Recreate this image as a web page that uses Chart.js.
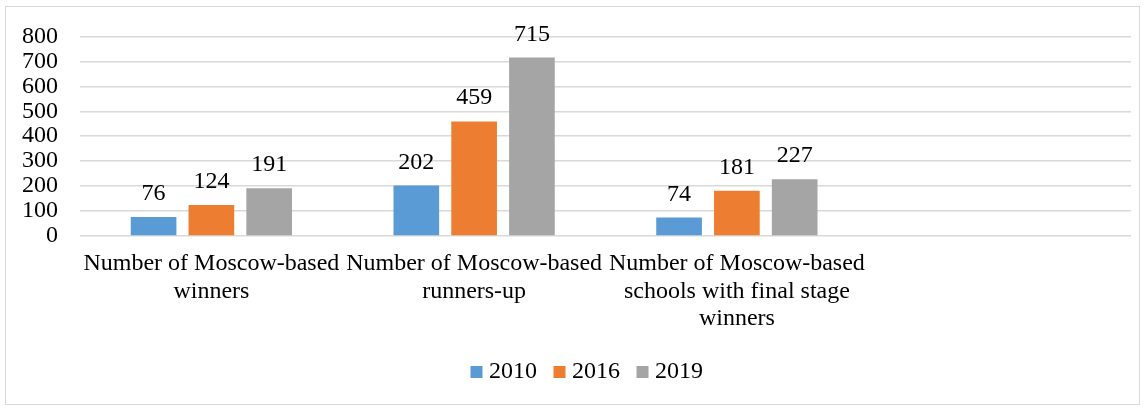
<!DOCTYPE html>
<html>
<head>
<meta charset="utf-8">
<script src="https://cdn.jsdelivr.net/npm/chart.js@4.4.1/dist/chart.umd.min.js"></script>
<style>
  body { margin: 0; background: #fff; }
  #wrap { position: relative; width: 1148px; height: 408px; }
  #frame { position: absolute; left: 5px; top: 6px; width: 1135px; height: 399px; border: 1px solid #d9d9d9; box-sizing: border-box; pointer-events: none; }
</style>
</head>
<body>
<div id="wrap">
  <canvas id="chart" width="1148" height="408"></canvas>
  <div id="frame"></div>
</div>
<script>
const categories = [
  ['Number of Moscow-based', 'winners'],
  ['Number of Moscow-based', 'runners-up'],
  ['Number of Moscow-based', 'schools with final stage', 'winners'],
  ''
];
const years = ['2010', '2016', '2019'];
const values2010 = [76, 202, 74, null];
const values2016 = [124, 459, 181, null];
const values2019 = [191, 715, 227, null];
const yTicks = [0, 100, 200, 300, 400, 500, 600, 700, 800];

const colors = ['#5B9BD5', '#ED7D31', '#A5A5A5'];
const family = '"Liberation Serif", "Times New Roman", serif';
const numFont = { family: family, size: 24 };
const catFont = { family: family, size: 24, lineHeight: 1.15 };

// values drawn above each bar
const barLabels = {
  id: 'barLabels',
  afterDatasetsDraw(chart) {
    const ctx = chart.ctx;
    ctx.save();
    ctx.font = numFont.size + 'px ' + family;
    ctx.fillStyle = '#000';
    ctx.textAlign = 'center';
    ctx.textBaseline = 'alphabetic';
    chart.data.datasets.forEach((ds, i) => {
      chart.getDatasetMeta(i).data.forEach((bar, j) => {
        const v = ds.data[j];
        if (v == null) return;
        ctx.fillText(String(v), bar.x, bar.y - 17);
      });
    });
    ctx.restore();
  }
};

// legend in the original sits a bit right of centre
const legendShift = {
  id: 'legendShift',
  afterLayout(chart) {
    chart.legend.left += 24;
    chart.legend.right += 24;
  }
};

new Chart(document.getElementById('chart'), {
  type: 'bar',
  data: {
    labels: categories,
    datasets: [
      { label: years[0], data: values2010, backgroundColor: colors[0] },
      { label: years[1], data: values2016, backgroundColor: colors[1] },
      { label: years[2], data: values2019, backgroundColor: colors[2] }
    ]
  },
  options: {
    responsive: false,
    animation: false,
    categoryPercentage: 0.66,
    barPercentage: 0.79,
    layout: { padding: { top: 35, right: 17, bottom: 14, left: 0 } },
    plugins: {
      legend: {
        position: 'bottom',
        labels: {
          font: numFont, color: '#000',
          usePointStyle: true, pointStyle: 'rect',
          boxWidth: 1, boxHeight: 12, padding: 22
        }
      },
      tooltip: { enabled: false }
    },
    scales: {
      x: {
        grid: { display: false, drawTicks: false },
        border: { display: false },
        ticks: { font: catFont, color: '#000', maxRotation: 0, autoSkip: false, padding: 14 },
        afterFit(scale) { scale.height = 102; }
      },
      y: {
        min: 0,
        max: 800,
        afterBuildTicks(scale) { scale.ticks = yTicks.map(v => ({ value: v })); },
        grid: { color: '#d9d9d9', lineWidth: 1.5, drawTicks: false },
        border: { display: false },
        ticks: { font: numFont, color: '#000', padding: 22, autoSkip: false },
        afterFit(scale) { scale.width = 80; }
      }
    }
  },
  plugins: [barLabels, legendShift]
});
</script>
</body>
</html>
